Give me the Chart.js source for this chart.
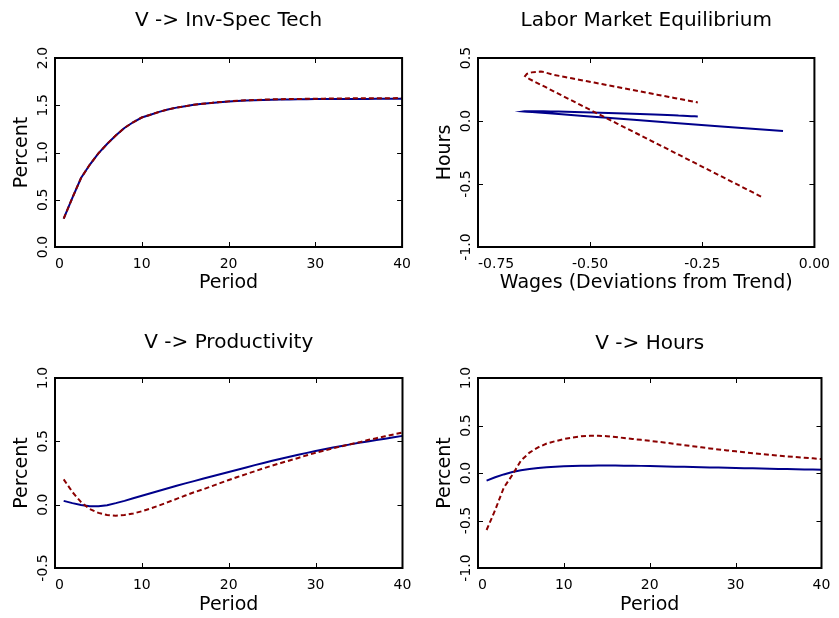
<!DOCTYPE html>
<html>
<head>
<meta charset="utf-8">
<title>V shock - impulse responses</title>
<script src="https://cdn.jsdelivr.net/npm/chart.js@4.4.0/dist/chart.umd.min.js"></script>
<style>
    html, body { margin: 0; padding: 0; background: #fff; }
    #wrap { position: relative; width: 839px; height: 618px; overflow: hidden; }
    canvas { position: absolute; }
</style>
</head>
<body>
<div id="wrap">
    <canvas id="invTechChart" width="420" height="300" style="left:0;top:0"></canvas>
    <canvas id="laborChart" width="419" height="300" style="left:420px;top:0"></canvas>
    <canvas id="prodChart" width="420" height="308" style="left:0;top:310px"></canvas>
    <canvas id="hoursChart" width="419" height="308" style="left:420px;top:310px"></canvas>
</div>
<script>
// Data (solid = model, dashed = VAR)
const periods = [1, 2, 3, 4, 5, 6, 7, 8, 9, 10, 11, 12, 13, 14, 15, 16, 17, 18, 19, 20,
    21, 22, 23, 24, 25, 26, 27, 28, 29, 30, 31, 32, 33, 34, 35, 36, 37, 38, 39, 40];

const invTechModel = [0.30, 0.52, 0.73, 0.87, 0.99, 1.09, 1.18, 1.26, 1.32, 1.37,
    1.40, 1.43, 1.455, 1.475, 1.49, 1.505, 1.515, 1.525, 1.533, 1.54,
    1.545, 1.55, 1.553, 1.556, 1.558, 1.56, 1.562, 1.563, 1.564, 1.565,
    1.565, 1.566, 1.566, 1.567, 1.567, 1.567, 1.568, 1.568, 1.568, 1.568];
const invTechVar = [0.30, 0.52, 0.73, 0.87, 0.99, 1.09, 1.18, 1.26, 1.32, 1.37,
    1.40, 1.43, 1.455, 1.475, 1.49, 1.505, 1.515, 1.525, 1.534, 1.541,
    1.547, 1.552, 1.556, 1.559, 1.562, 1.564, 1.566, 1.567, 1.568, 1.569,
    1.57, 1.571, 1.572, 1.573, 1.573, 1.574, 1.574, 1.575, 1.575, 1.576];

const prodModel = [0.030, 0.012, -0.002, -0.012, -0.012, -0.004, 0.012, 0.030, 0.050, 0.070,
    0.090, 0.110, 0.130, 0.150, 0.168, 0.186, 0.204, 0.222, 0.240, 0.258,
    0.276, 0.294, 0.312, 0.329, 0.346, 0.362, 0.378, 0.394, 0.409, 0.424,
    0.438, 0.451, 0.464, 0.476, 0.488, 0.499, 0.510, 0.521, 0.532, 0.543];
const prodVar = [0.20, 0.10, 0.02, -0.035, -0.065, -0.082, -0.087, -0.082, -0.070, -0.052,
    -0.030, -0.006, 0.020, 0.046, 0.072, 0.098, 0.120, 0.145, 0.170, 0.195,
    0.218, 0.241, 0.264, 0.287, 0.308, 0.329, 0.349, 0.369, 0.390, 0.410,
    0.428, 0.445, 0.461, 0.477, 0.492, 0.510, 0.525, 0.540, 0.555, 0.570];

const hoursModel = [-0.080, -0.045, -0.015, 0.010, 0.028, 0.042, 0.053, 0.061, 0.067, 0.071,
    0.074, 0.076, 0.077, 0.078, 0.078, 0.078, 0.077, 0.076, 0.075, 0.073,
    0.071, 0.069, 0.067, 0.065, 0.063, 0.061, 0.059, 0.057, 0.055, 0.053,
    0.051, 0.049, 0.047, 0.045, 0.043, 0.042, 0.040, 0.038, 0.037, 0.035];
const hoursVar = [-0.60, -0.39, -0.155, -0.02, 0.13, 0.215, 0.27, 0.31, 0.335, 0.357,
    0.374, 0.386, 0.391, 0.392, 0.388, 0.380, 0.368, 0.358, 0.349, 0.339,
    0.328, 0.317, 0.305, 0.293, 0.282, 0.270, 0.259, 0.248, 0.238, 0.228,
    0.218, 0.209, 0.200, 0.191, 0.183, 0.175, 0.168, 0.161, 0.154, 0.147];

const wagesModel = [-0.070, -0.200, -0.311, -0.403, -0.470, -0.522, -0.563, -0.592, -0.615, -0.629,
    -0.641, -0.648, -0.646, -0.640, -0.630, -0.618, -0.604, -0.588, -0.571, -0.553,
    -0.535, -0.516, -0.497, -0.478, -0.459, -0.441, -0.423, -0.406, -0.389, -0.373,
    -0.357, -0.342, -0.328, -0.314, -0.303, -0.293, -0.283, -0.275, -0.267, -0.260];
const wagesVar = [-0.119, -0.235, -0.365, -0.440, -0.523, -0.570, -0.600, -0.623, -0.636, -0.645,
    -0.641, -0.630, -0.617, -0.610, -0.603, -0.595, -0.583, -0.569, -0.556, -0.541,
    -0.525, -0.509, -0.491, -0.474, -0.458, -0.440, -0.424, -0.408, -0.393, -0.379,
    -0.364, -0.351, -0.338, -0.324, -0.313, -0.301, -0.291, -0.280, -0.270, -0.260];

const periodTicks = [0, 10, 20, 30, 40];
const wageTicks = [-0.75, -0.5, -0.25, 0];
const invTechTicks = [0, 0.5, 1, 1.5, 2];
const laborTicks = [-1, -0.5, 0, 0.5];
const prodTicks = [-0.5, 0, 0.5, 1];
const hoursTicks = [-1, -0.5, 0, 0.5, 1];

Chart.defaults.font.family = "'DejaVu Sans', sans-serif";
Chart.defaults.color = "#000";

const BLUE = "#00008b";
const RED = "#8b0000";

// frame with inward tick marks on all four sides
const boxTicks = {
    id: "boxTicks",
    beforeDraw(chart) {
        // first x label starts at its tick instead of being centred on it
        const items = chart.scales.x.getLabelItems();
        if (items.length) items[0].options.textAlign = "left";
    },
    afterDatasetsDraw(chart) {
        const { ctx, chartArea: a, scales: { x, y } } = chart;
        ctx.save();
        ctx.strokeStyle = "#000";
        ctx.lineWidth = 1;
        ctx.beginPath();
        x.ticks.forEach(t => {
            const px = Math.round(x.getPixelForValue(t.value)) + 0.5;
            ctx.moveTo(px, a.bottom); ctx.lineTo(px, a.bottom - 5);
            ctx.moveTo(px, a.top); ctx.lineTo(px, a.top + 5);
        });
        y.ticks.forEach(t => {
            const py = Math.round(y.getPixelForValue(t.value)) + 0.5;
            ctx.moveTo(a.left, py); ctx.lineTo(a.left + 5, py);
            ctx.moveTo(a.right, py); ctx.lineTo(a.right - 5, py);
        });
        ctx.stroke();
        ctx.lineWidth = 2;
        ctx.strokeRect(a.left, a.top, a.right - a.left, a.bottom - a.top);
        ctx.restore();
    }
};

function series(xs, ys, color, dashed) {
    return {
        data: xs.map((v, i) => ({ x: v, y: ys[i] })),
        borderColor: color,
        borderWidth: 2,
        borderDash: dashed ? [5, 3] : [],
        pointRadius: 0,
        showLine: true,
        fill: false,
        tension: 0,
        order: dashed ? 0 : 1
    };
}

function panelOptions(p) {
    return {
        responsive: false,
        animation: false,
        events: [],
        layout: { padding: { left: 0, right: p.padRight, top: 0, bottom: 0 } },
        plugins: {
            legend: { display: false },
            tooltip: { enabled: false },
            title: {
                display: true, text: p.title, color: "#000", fullSize: false,
                font: { size: 20, weight: "normal" },
                padding: { top: p.titleTop, bottom: p.titleBottom }
            }
        },
        scales: {
            x: {
                type: "linear", min: p.xMin, max: p.xMax,
                grid: { display: false, drawTicks: false },
                border: { display: false },
                afterBuildTicks: s => { s.ticks = p.xTicks.map(v => ({ value: v })); },
                afterFit: s => { s.height = p.xHeight; },
                ticks: {
                    font: { size: 14 }, color: "#000", padding: p.xTickPad,
                    maxRotation: 0, autoSkip: false,
                    callback: v => v.toFixed(p.xDigits)
                },
                title: {
                    display: true, text: p.xTitle, color: "#000",
                    font: { size: 19 }, padding: { top: 0, bottom: p.xTitleBottom }
                }
            },
            y: {
                type: "linear", min: p.yMin, max: p.yMax,
                grid: { display: false, drawTicks: false },
                border: { display: false },
                afterBuildTicks: s => { s.ticks = p.yTicks.map(v => ({ value: v })); },
                afterFit: s => { s.width = p.yWidth; },
                ticks: {
                    font: { size: 14 }, color: "#000", padding: p.yTickPad,
                    minRotation: 90, maxRotation: 90, crossAlign: "center", autoSkip: false,
                    callback: v => v.toFixed(1)
                },
                title: {
                    display: true, text: p.yTitle, color: "#000",
                    font: { size: 19 }, padding: { top: p.yTitleTop, bottom: 0 }
                }
            }
        }
    };
}

// V -> Inv-Spec Tech
new Chart(document.getElementById("invTechChart"), {
    type: "scatter",
    data: { datasets: [series(periods, invTechModel, BLUE, false), series(periods, invTechVar, RED, true)] },
    options: panelOptions({
        title: "V -> Inv-Spec Tech", titleTop: 9, titleBottom: 25, padRight: 17,
        xMin: 0, xMax: 40, xTicks: periodTicks, xDigits: 0, xTitle: "Period",
        xHeight: 53, xTickPad: 9, xTitleBottom: 5.6,
        yMin: 0, yMax: 2, yTicks: invTechTicks, yTitle: "Percent",
        yWidth: 55, yTickPad: 0.8, yTitleTop: 10.6
    }),
    plugins: [boxTicks]
});

// Labor Market Equilibrium
new Chart(document.getElementById("laborChart"), {
    type: "scatter",
    data: { datasets: [series(wagesModel, hoursModel, BLUE, false), series(wagesVar, hoursVar, RED, true)] },
    options: panelOptions({
        title: "Labor Market Equilibrium", titleTop: 9, titleBottom: 25, padRight: 21,
        xMin: -0.75, xMax: 0, xTicks: wageTicks, xDigits: 2, xTitle: "Wages (Deviations from Trend)",
        xHeight: 53, xTickPad: 9, xTitleBottom: 5.6,
        yMin: -1, yMax: 0.5, yTicks: laborTicks, yTitle: "Hours",
        yWidth: 58, yTickPad: -2.4, yTitleTop: 13.6
    }),
    plugins: [boxTicks]
});

// V -> Productivity
new Chart(document.getElementById("prodChart"), {
    type: "scatter",
    data: { datasets: [series(periods, prodModel, BLUE, false), series(periods, prodVar, RED, true)] },
    options: panelOptions({
        title: "V -> Productivity", titleTop: 21, titleBottom: 23, padRight: 17,
        xMin: 0, xMax: 40, xTicks: periodTicks, xDigits: 0, xTitle: "Period",
        xHeight: 50, xTickPad: 8.6, xTitleBottom: 1.6,
        yMin: -0.5, yMax: 1, yTicks: prodTicks, yTitle: "Percent",
        yWidth: 55, yTickPad: -2, yTitleTop: 10.6
    }),
    plugins: [boxTicks]
});

// V -> Hours
new Chart(document.getElementById("hoursChart"), {
    type: "scatter",
    data: { datasets: [series(periods, hoursModel, BLUE, false), series(periods, hoursVar, RED, true)] },
    options: panelOptions({
        title: "V -> Hours", titleTop: 22, titleBottom: 22, padRight: 14,
        xMin: 0, xMax: 40, xTicks: periodTicks, xDigits: 0, xTitle: "Period",
        xHeight: 50, xTickPad: 8.6, xTitleBottom: 1.6,
        yMin: -1, yMax: 1, yTicks: hoursTicks, yTitle: "Percent",
        yWidth: 58, yTickPad: -2.4, yTitleTop: 13.6
    }),
    plugins: [boxTicks]
});
</script>
</body>
</html>
